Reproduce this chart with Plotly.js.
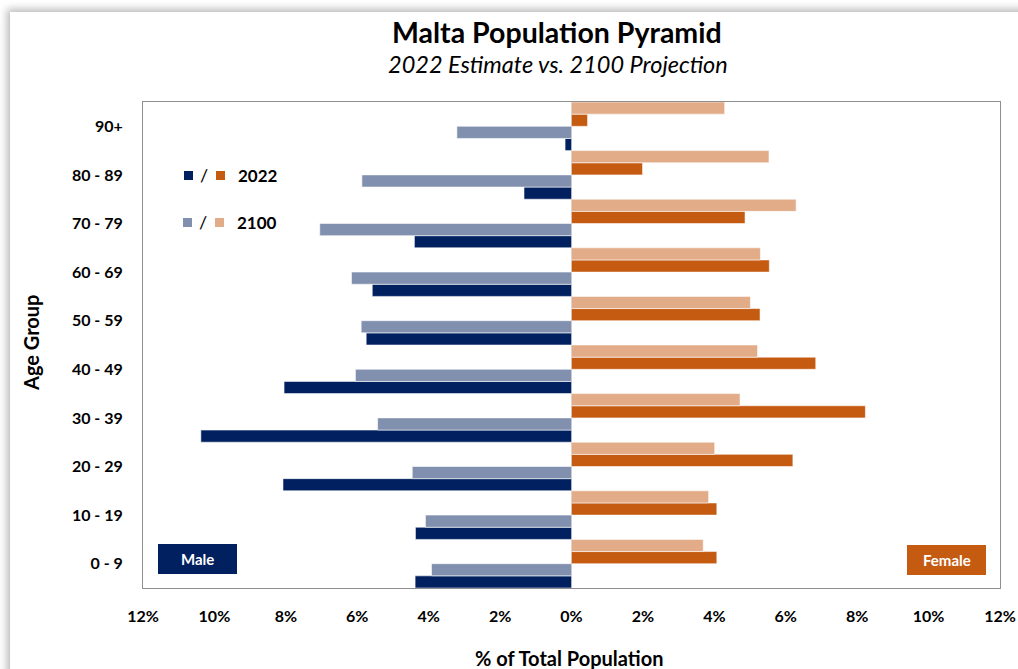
<!DOCTYPE html>
<html>
<head>
<meta charset="utf-8">
<script src="https://cdn.plot.ly/plotly-3.0.1.min.js"></script>
<style>
  html, body { margin:0; padding:0; background:#ffffff; width:1018px; height:669px; overflow:hidden; }
  #frame { position:absolute; left:10px; top:12px; width:1100px; height:720px; background:#ffffff;
           box-shadow:-3px -3px 8px rgba(0,0,0,0.28); }
  #chart { position:absolute; left:0; top:0; width:1018px; height:669px; }
</style>
</head>
<body>
<div id="frame"></div>
<div id="chart"></div>
<script>
// ---- data (percent of total population) ----
const ageGroups = ['0 - 9','10 - 19','20 - 29','30 - 39','40 - 49','50 - 59','60 - 69','70 - 79','80 - 89','90+'];
const male2022   = [4.38, 4.37, 8.08, 10.38, 8.05, 5.75, 5.58, 4.40, 1.33, 0.18];
const male2100   = [3.92, 4.09, 4.46, 5.43, 6.05, 5.89, 6.16, 7.05, 5.87, 3.21];
const female2022 = [4.07, 4.07, 6.20, 8.23, 6.84, 5.28, 5.54, 4.86, 1.99, 0.45];
const female2100 = [3.69, 3.84, 4.01, 4.72, 5.21, 5.01, 5.29, 6.29, 5.53, 4.29];
const tickValues = [-12,-10,-8,-6,-4,-2,0,2,4,6,8,10,12];
const tickLabels = ['12%','10%','8%','6%','4%','2%','0%','2%','4%','6%','8%','10%','12%'];

const C = { male22:'#002060', male00:'#8190AE', fem22:'#C55A11', fem00:'#E2AC89' };
const FONT = 'Lato, "Open Sans", sans-serif';

function bar(name, vals, color, neg) {
  return {
    type:'bar', orientation:'h', name:name,
    y: ageGroups,
    x: vals.map(v => neg ? -v : v),
    marker:{ color:color, line:{ color:'rgba(255,255,255,0.55)', width:1 } },
    hoverinfo:'skip'
  };
}
// trace order: bottom to top within each group
const traces = [
  bar('Male 2022', male2022, C.male22, true),
  bar('Male 2100', male2100, C.male00, true),
  bar('Female 2022', female2022, C.fem22, false),
  bar('Female 2100', female2100, C.fem00, false)
];

// pixel helpers (plot area: x 143..1000, y 102..588)
const L = 143, R = 1000, T = 102, B = 588;
const px = x => (x - L) / (R - L);
const py = y => (B - y) / (B - T);

const shapes = [
  // Male / Female boxes
  { type:'rect', xref:'paper', yref:'paper', x0:px(158), x1:px(237), y0:py(574), y1:py(544), fillcolor:C.male22, line:{width:0} },
  { type:'rect', xref:'paper', yref:'paper', x0:px(907), x1:px(986), y0:py(575), y1:py(545), fillcolor:C.fem22, line:{width:0} },
  // legend squares
  { type:'rect', xref:'paper', yref:'paper', x0:px(184), x1:px(193), y0:py(180), y1:py(171), fillcolor:C.male22, line:{width:0} },
  { type:'rect', xref:'paper', yref:'paper', x0:px(216), x1:px(225), y0:py(180), y1:py(171), fillcolor:C.fem22, line:{width:0} },
  { type:'rect', xref:'paper', yref:'paper', x0:px(183), x1:px(192), y0:py(227), y1:py(218), fillcolor:C.male00, line:{width:0} },
  { type:'rect', xref:'paper', yref:'paper', x0:px(215), x1:px(224), y0:py(227), y1:py(218), fillcolor:C.fem00, line:{width:0} }
];

const ann = (o) => Object.assign({ xref:'paper', yref:'paper', showarrow:false, xanchor:'center', yanchor:'middle' }, o);
const annotations = [
  ann({ x:px(557), y:py(32), text:'Malta Population Pyramid', font:{ family:FONT, size:28.5, color:'#000', weight:'bold' } }),
  ann({ x:px(558), y:py(64), text:'<i>2022 Estimate vs. 2100 Projection</i>', font:{ family:FONT, size:23.5, color:'#000' } }),
  ann({ x:px(31), y:py(343), text:'Age Group', textangle:-90, font:{ family:FONT, size:20, color:'#000', weight:'bold' } }),
  ann({ x:px(569), y:py(658), text:'% of Total Population', font:{ family:FONT, size:20, color:'#000', weight:'bold' } }),
  ann({ x:px(197.5), y:py(559), text:'Male', font:{ family:FONT, size:15, color:'#ffffff', weight:'bold' } }),
  ann({ x:px(946.5), y:py(560), text:'Female', font:{ family:FONT, size:15, color:'#ffffff', weight:'bold' } }),
  ann({ x:px(204), y:py(175), text:'/', font:{ family:FONT, size:18, color:'#000' } }),
  ann({ x:px(203), y:py(222), text:'/', font:{ family:FONT, size:18, color:'#000' } }),
  ann({ x:px(236), y:py(175), xanchor:'left', text:'2022', font:{ family:FONT, size:17, color:'#000', weight:'bold' } }),
  ann({ x:px(235), y:py(222), xanchor:'left', text:'2100', font:{ family:FONT, size:17, color:'#000', weight:'bold' } })
];

const layout = {
  width:1018, height:669,
  margin:{ l:L, r:1018-R, t:T, b:669-B, pad:0 },
  paper_bgcolor:'rgba(0,0,0,0)', plot_bgcolor:'#ffffff',
  barmode:'group', bargap:0, bargroupgap:0,
  showlegend:false,
  xaxis:{
    range:[-12,12], tickvals:tickValues, ticktext:tickLabels,
    showgrid:false, zeroline:true, zerolinecolor:'#8c8c8c', zerolinewidth:1,
    showline:true, mirror:true, linecolor:'#8f8f8f', linewidth:1,
    ticks:'outside', ticklen:14, tickcolor:'rgba(0,0,0,0)',
    tickfont:{ family:FONT, size:16, color:'#000', weight:'bold' },
    fixedrange:true
  },
  yaxis:{
    type:'category', categoryorder:'array', categoryarray:ageGroups,
    showgrid:false, zeroline:false,
    showline:true, mirror:true, linecolor:'#8f8f8f', linewidth:1,
    ticks:'outside', ticklen:16, tickcolor:'rgba(0,0,0,0)',
    tickfont:{ family:FONT, size:16, color:'#000', weight:'bold' },
    fixedrange:true
  },
  shapes:shapes,
  annotations:annotations
};

Plotly.newPlot('chart', traces, layout, { displayModeBar:false, staticPlot:true });
</script>
</body>
</html>
